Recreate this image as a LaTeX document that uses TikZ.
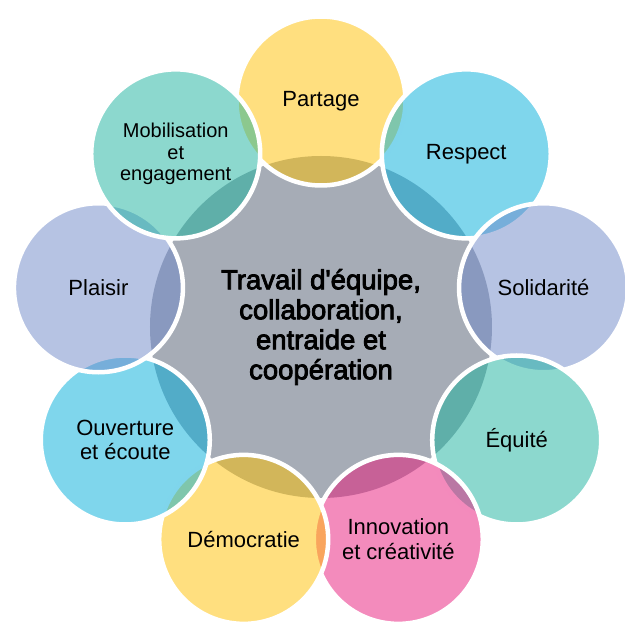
\documentclass[tikz,border=0pt]{standalone}
\usepackage{fontspec}
\setmainfont{Liberation Sans}[Ligatures=TeXOff]
\newfontfamily\hubfont{Liberation Sans}[Ligatures=TeXOff, FakeBold=3]
\usetikzlibrary{shapes,positioning}
\definecolor{HubGray}{HTML}{A6ACB6}
\definecolor{PetalGold}{HTML}{FFC000}
\definecolor{PetalBlue}{HTML}{00ADDA}
\definecolor{PetalLilac}{HTML}{6E88C8}
\definecolor{PetalTeal}{HTML}{1AB29E}
\definecolor{PetalPink}{HTML}{E8177A}
\tikzstyle{Hub} = [circle, fill=HubGray, minimum size=342pt, inner sep=0pt, align=center, font=\fontsize{27.5}{30}\hubfont]
\tikzstyle{Petal} = [circle, draw=white, line width=4.5pt, fill opacity=0.5, text opacity=1, minimum size=169pt, inner sep=0pt, align=center, font=\fontsize{22}{24.5}\selectfont]

\begin{document}
\begin{tikzpicture}[x=1pt,y=1pt]
    \useasboundingbox (-321,-296) rectangle (304,327);
    \node[Hub] (hub) at (0,0) {Travail d'équipe,\\collaboration,\\entraide et\\coopération};
    \node[Petal, fill=PetalGold]  (partage)      at (90:226)   {Partage};
    \node[Petal, fill=PetalBlue]  (respect)      at (50:226)   {Respect};
    \node[Petal, fill=PetalLilac] (solidarite)   at (10:226)   {Solidarité};
    \node[Petal, fill=PetalTeal]  (equite)       at (-30:226)  {Équité};
    \node[Petal, fill=PetalPink]  (innovation)   at (-70:226)  {Innovation\\et créativité};
    \node[Petal, fill=PetalGold]  (democratie)   at (-110:226) {Démocratie};
    \node[Petal, fill=PetalBlue]  (ouverture)    at (-150:226) {Ouverture\\et écoute};
    \node[Petal, fill=PetalLilac] (plaisir)      at (170:226)  {Plaisir};
    \node[Petal, fill=PetalTeal, font=\fontsize{20}{21.5}\selectfont] (mobilisation) at (130:226) {Mobilisation\\et\\engagement};
  \end{tikzpicture}
\end{document}
